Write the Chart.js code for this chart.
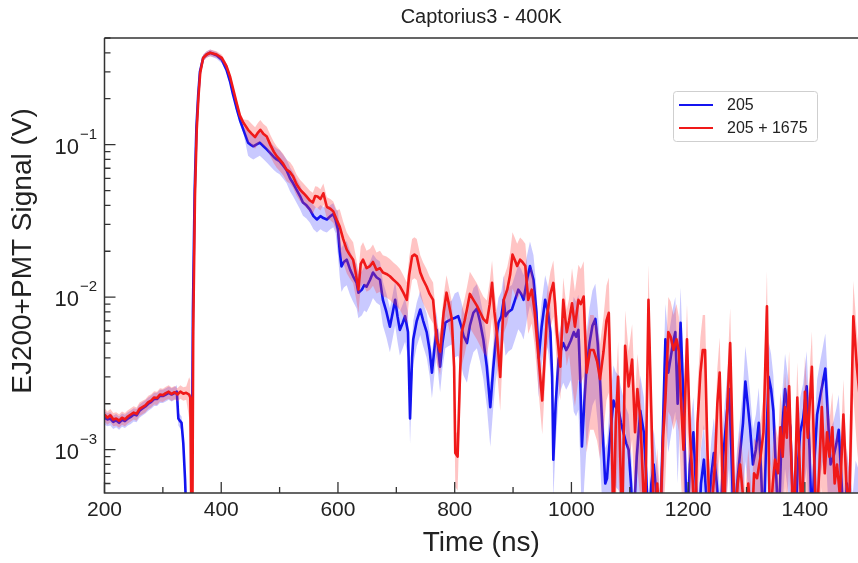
<!DOCTYPE html>
<html>
<head>
<meta charset="utf-8">
<script src="https://cdn.jsdelivr.net/npm/chart.js@4.4.0/dist/chart.umd.min.js"></script>
<style>
  html, body { margin: 0; padding: 0; background: #fff; }
  #wrap { width: 858px; height: 563px; }
</style>
</head>
<body>
<div id="wrap"><canvas id="signalChart" width="858" height="563"></canvas></div>
<script>
// time (ns) and signal (V), one row per 10 points
const blueTime = [
  200,205,210,215,220,225,230,235,240,245,
  250,255,260,265,270,275,280,285,290,295,
  300,305,310,315,320,324,326.5,329,332,335,
  338,341,349,351.5,354.5,357.5,360.5,363.5,369,375,
  381,392,401,409,415,420,426,432,438,446,
  450,455,460,466,472,478,484,490,495,500,
  506,512,518,523,529,535,540,546,552,558,
  564,570,575,581,587,592,596,600,603,606,
  610,615,621,626,632,635,641,645,649,655,
  660,666,672,677,683,689,694,698,702,706,
  711,715,718,720,723.5,727,729,735,741,746,
  752,757,761,765,769,772,775,779,784,789,
  795,800,806,811,815,821,826,832,838,843,
  849,855,861,866,870,875,880,884,887,892,
  898,903,909,914,918,924,929,935,940,944,
  949,955,960,964,967,969,973,978,982,986,
  991,995,999,1004,1008,1012,1015,1018,1022,1026,
  1031,1036,1041,1045,1049,1054,1058,1061,1066,1072,
  1076,1081,1085,1089,1094,1098,1102,1106,1112,1118,
  1124,1128,1132,1137,1141,1146,1152,1157,1161,1166,
  1170,1174,1178,1182,1187,1192,1198,1203,1209,1213,
  1218,1222,1227,1231,1235,1240,1244,1249,1255,1260,
  1265,1270,1274,1278,1284,1289,1294,1298,1302,1306,
  1311,1316,1321,1325,1329,1334,1338,1342,1346,1350,
  1355,1360,1366,1370,1375,1379,1383,1388,1392,1397,
  1403,1408,1412,1416,1421,1426,1431,1435,1440,1444,
  1449,1454,1458,1462,1467,1472,1477,1482,1487,1495
];
const blueSignal = [
  1.62e-3,1.58e-3,1.60e-3,1.52e-3,1.56e-3,1.50e-3,1.57e-3,1.54e-3,1.60e-3,1.64e-3,
  1.70e-3,1.68e-3,1.80e-3,1.86e-3,1.92e-3,2.00e-3,2.06e-3,2.15e-3,2.15e-3,2.25e-3,
  2.25e-3,2.30e-3,2.36e-3,2.30e-3,2.35e-3,2.40e-3,1.60e-3,1.55e-3,1.50e-3,1.10e-3,
  6.4e-4,3e-4,3e-4,8e-3,0.05,0.13,0.21,0.30,0.37,0.39,
  0.40,0.385,0.36,0.31,0.26,0.215,0.175,0.145,0.125,0.103,
  0.1,0.0975,0.1,0.103,0.098,0.093,0.088,0.083,0.08,0.078,
  0.073,0.068,0.06,0.056,0.0507,0.046,0.0417,0.04,0.0375,0.034,
  0.0323,0.034,0.033,0.0323,0.034,0.035,0.032,0.0277,0.02,0.0159,
  0.017,0.0176,0.0151,0.0137,0.0124,0.0107,0.0112,0.012,0.0117,0.013,
  0.0145,0.0135,0.013,0.0096,0.008,0.0064,0.008,0.0096,0.0075,0.0061,
  0.0068,0.0075,0.0065,0.0059,0.0016,0.004,0.0053,0.007,0.0083,0.007,
  0.0059,0.0045,0.0032,0.0045,0.0061,0.0045,0.0035,0.005,0.0068,0.007,
  0.0072,0.0073,0.0075,0.0065,0.0056,0.005,0.0065,0.0079,0.0084,0.007,
  0.0053,0.0035,0.0019,0.0034,0.005,0.0068,0.0075,0.0096,0.0075,0.008,
  0.0083,0.0095,0.0112,0.0105,0.0096,0.013,0.016,0.013,0.008,0.004,
  0.0064,0.0096,0.008,0.0059,0.003,8.6e-4,0.002,0.0039,0.0045,0.005,
  0.0045,0.0048,0.0052,0.0059,0.0055,0.0061,0.003,1.05e-3,0.002,0.0035,
  0.005,0.0065,0.0072,0.005,0.0028,0.0012,6e-4,6.5e-4,0.0012,0.0021,
  0.0019,0.0018,0.0015,0.0013,0.0011,0.001,6e-4,3e-4,9e-4,0.0018,
  0.0013,7e-4,3e-4,6e-4,8e-4,5e-4,3e-4,0.0015,0.0053,0.0032,
  0.004,0.005,0.0059,0.002,0.0068,0.0021,3e-4,8e-4,0.0013,6e-4,
  3e-4,6e-4,8.6e-4,5e-4,4e-4,7e-4,9.5e-4,6e-4,3e-4,9e-4,
  0.0015,0.0025,0.001,3e-4,6e-4,9.5e-4,0.0015,0.0028,0.002,0.0014,
  8e-4,0.001,0.0015,7e-4,3e-4,0.0012,0.003,0.0025,0.0018,8e-4,
  3e-4,0.0012,0.0025,0.0019,0.0014,5e-4,3e-4,8e-4,0.0013,0.0016,
  0.0026,0.001,3e-4,8e-4,0.0017,0.0022,0.0028,0.0034,0.0015,8e-4,
  9e-4,0.0011,1.35e-3,7e-4,3e-4,6e-4,4e-4,3e-4,5e-4,4e-4
];
const redTime = [
  200,205,210,215,220,225,230,235,240,245,
  250,255,260,265,270,275,280,285,290,295,
  300,305,310,315,320,325,330,335,340,345,
  347,349,350.5,352,355,358,361,364,369,375,
  381,392,401,409,415,420,426,432,438,446,
  452,458,463,467,472,478,484,490,495,500,
  506,512,518,523,529,535,541,546,552,557,
  561,565,570,575,581,587,592,598,603,609,
  615,620,626,631,635,639,643,649,655,660,
  666,672,677,683,689,695,701,706,712,718,
  722,727,731,735,741,746,752,757,763,769,
  775,781,786,790,795,799,801,805,809,812,
  817,821,826,832,838,844,849,855,860,864,
  868,872,878,884,890,895,899,903,907,912,
  916,921,926,932,937,941,945,950,954,958,
  964,969,972,975,981,986,992,996,1001,1006,
  1012,1016,1021,1026,1032,1038,1044,1049,1055,1060,
  1064,1068,1072,1076,1080,1084,1087,1092,1098,1104,
  1109,1113,1118,1122,1126,1132,1137,1142,1147,1152,
  1157,1161,1166,1170,1175,1180,1184,1188,1192,1198,
  1203,1208,1212,1216,1221,1225,1229,1233,1238,1242,
  1246,1250,1254,1258,1261,1266,1272,1276,1280,1285,
  1289,1294,1298,1303,1309,1313,1318,1324,1329,1335,
  1340,1345,1349,1354,1358,1362,1366,1369,1373,1377,
  1381,1387,1391,1395,1400,1405,1412,1416,1420,1425,
  1429,1434,1438,1442,1447,1451,1455,1460,1466,1471,
  1476,1483,1489,1495
];
const redSignal = [
  1.70e-3,1.62e-3,1.68e-3,1.58e-3,1.60e-3,1.55e-3,1.62e-3,1.58e-3,1.65e-3,1.70e-3,
  1.75e-3,1.72e-3,1.85e-3,1.90e-3,1.95e-3,2.05e-3,2.10e-3,2.20e-3,2.18e-3,2.30e-3,
  2.28e-3,2.35e-3,2.40e-3,2.32e-3,2.38e-3,2.30e-3,2.40e-3,2.33e-3,2.36e-3,2.30e-3,
  2.2e-3,3e-4,3e-4,6e-3,0.046,0.125,0.207,0.296,0.37,0.39,
  0.40,0.39,0.37,0.327,0.28,0.235,0.19,0.155,0.139,0.125,
  0.118,0.112,0.12,0.125,0.118,0.113,0.1,0.09,0.084,0.08,
  0.075,0.0685,0.066,0.062,0.055,0.0507,0.048,0.0457,0.043,0.0417,
  0.046,0.0457,0.044,0.048,0.039,0.038,0.0365,0.032,0.029,0.024,
  0.0205,0.019,0.0176,0.014,0.0112,0.0165,0.0176,0.0155,0.016,0.017,
  0.0151,0.0155,0.0145,0.0142,0.0137,0.013,0.0124,0.0118,0.0107,0.0096,
  0.014,0.0185,0.019,0.0185,0.0145,0.013,0.0117,0.0105,0.0096,0.0053,
  0.0044,0.0079,0.0107,0.009,0.0072,0.0035,9.5e-4,9e-4,0.003,0.0059,
  0.007,0.0083,0.0105,0.0096,0.0088,0.0079,0.0072,0.0068,0.009,0.0124,
  0.008,0.0059,0.003,0.0096,0.0112,0.014,0.019,0.0175,0.016,0.0176,
  0.017,0.016,0.0096,0.0112,0.008,0.0053,0.0035,0.0021,0.004,0.0075,
  0.0105,0.0124,0.009,0.0059,0.0035,0.0096,0.0059,0.007,0.0091,0.0064,
  0.0096,0.009,0.0101,0.0032,0.0045,0.0045,0.0038,0.0029,0.0044,0.007,
  0.0079,0.002,3e-4,0.0015,0.003,8e-4,3e-4,0.0048,0.0026,0.0039,
  0.0013,0.0025,0.0016,7e-4,3e-4,0.0096,0.0017,3e-4,6e-4,3e-4,
  0.0012,0.0021,0.0059,0.0055,0.0045,0.0053,0.0044,0.002,0.001,0.0053,
  0.0013,6e-4,3e-4,0.0015,0.0032,0.0045,0.0045,0.001,3e-4,5e-4,
  8e-4,0.002,0.0032,9e-4,3e-4,0.0015,0.005,0.0012,3e-4,6e-4,
  8e-4,5e-4,3e-4,6e-4,3e-4,7e-4,6.5e-4,9e-4,0.0013,0.0087,
  3e-4,6e-4,8.6e-4,7e-4,0.0014,9e-4,0.0019,0.0012,0.0026,8e-4,
  3e-4,0.0022,8e-4,3e-4,0.0024,0.0012,0.0035,9e-4,3e-4,8e-4,
  0.0019,7e-4,0.0013,9e-4,0.0014,6e-4,8e-4,5e-4,0.0017,6e-4,
  4e-4,0.0075,0.0035,0.002
];
// relative half-width of the shaded band, from each bandStart time on
const bandStart = [345, 352, 445, 600, 800, 1000];
const blueSpread = [0.1, 0.35, 0.05, 0.18, 0.32, 0.45, 0.7];
const redSpread = [0.1, 0.3, 0.05, 0.16, 0.3, 0.4, 0.7];

const xTicks = [200, 400, 600, 800, 1000, 1200, 1400];
const yDecades = [-1, -2, -3];
const seriesLabels = ['205', '205 + 1675'];

const FONT = "'Liberation Sans', Arial, Helvetica, sans-serif";
const BLUE = 'rgb(20, 20, 240)';
const RED = 'rgb(240, 25, 25)';
const AXIS = '#333';

function spreadAt(t, spread) {
  let k = 0;
  while (k < bandStart.length && t >= bandStart[k]) k++;
  return spread[k];
}
function points(times, vals) {
  return times.map((t, i) => ({ x: t, y: vals[i] }));
}
function bandPoints(times, vals, spread, sign) {
  return times.map((t, i) => {
    const f = spreadAt(t, spread);
    const v = sign > 0 ? vals[i] * (1 + f) : vals[i] * (1 - f);
    return { x: t, y: Math.max(v, 1e-5) };
  });
}

const bandStyle = { pointRadius: 0, borderWidth: 0, borderColor: 'transparent', tension: 0 };
const lineStyle = { pointRadius: 0, borderWidth: 2.6, tension: 0, fill: false, borderJoinStyle: 'round' };

// frame, inward ticks, y tick labels, y title and legend
const decorPlugin = {
  id: 'decor',
  afterDraw(chart) {
    const { ctx, chartArea: ca } = chart;
    const xs = chart.scales.x, ys = chart.scales.y;
    ctx.save();
    ctx.strokeStyle = AXIS;
    ctx.lineWidth = 1.5;
    ctx.beginPath();
    ctx.moveTo(ca.left, ca.top);
    ctx.lineTo(ca.left, ca.bottom);
    ctx.lineTo(ca.right, ca.bottom);
    ctx.moveTo(ca.left, ca.top);
    ctx.lineTo(ca.right, ca.top);
    ctx.stroke();

    ctx.lineWidth = 1.3;
    ctx.beginPath();
    for (let t = 200; t <= 1500; t += 100) {
      const px = xs.getPixelForValue(t);
      if (px > ca.right) break;
      const len = t % 200 === 0 ? 11 : 6;
      ctx.moveTo(px, ca.bottom);
      ctx.lineTo(px, ca.bottom - len);
    }
    for (let d = -4; d <= -1; d++) {
      for (let m = 1; m <= 9; m++) {
        const v = m * Math.pow(10, d);
        if (v < ys.min || v > ys.max) continue;
        const py = ys.getPixelForValue(v);
        const len = m === 1 ? 11 : 6;
        ctx.moveTo(ca.left, py);
        ctx.lineTo(ca.left + len, py);
      }
    }
    ctx.stroke();

    ctx.fillStyle = '#222';
    ctx.textBaseline = 'middle';
    yDecades.forEach(d => {
      const py = ys.getPixelForValue(Math.pow(10, d));
      const sup = '\u2212' + Math.abs(d);
      ctx.font = '15px ' + FONT;
      ctx.textAlign = 'right';
      const supW = ctx.measureText(sup).width;
      ctx.fillText(sup, 97, py - 10);
      ctx.font = '22px ' + FONT;
      ctx.fillText('10', 97 - supW - 1, py + 3);
    });

    // y axis title
    ctx.save();
    ctx.translate(23, 251);
    ctx.rotate(-Math.PI / 2);
    ctx.font = '28px ' + FONT;
    ctx.textAlign = 'center';
    ctx.fillText('EJ200+PMT Signal (V)', 0, 0);
    ctx.restore();

    // legend box
    const bx = 673.5, by = 91.5, bw = 144, bh = 50;
    ctx.fillStyle = 'rgba(255,255,255,0.85)';
    ctx.strokeStyle = '#cfcfcf';
    ctx.lineWidth = 1;
    ctx.beginPath();
    ctx.roundRect(bx, by, bw, bh, 3);
    ctx.fill();
    ctx.stroke();
    const colors = [BLUE, RED];
    seriesLabels.forEach((lab, i) => {
      const ly = 105 + i * 23;
      ctx.strokeStyle = colors[i];
      ctx.lineWidth = 2;
      ctx.beginPath();
      ctx.moveTo(679, ly);
      ctx.lineTo(713, ly);
      ctx.stroke();
      ctx.fillStyle = '#222';
      ctx.font = '16px ' + FONT;
      ctx.textAlign = 'left';
      ctx.fillText(lab, 727, ly + 1);
    });
    ctx.restore();
  }
};

const ctx = document.getElementById('signalChart').getContext('2d');
const signalChart = new Chart(ctx, {
  type: 'line',
  data: {
    datasets: [
      Object.assign({ label: 'blue hi', data: bandPoints(blueTime, blueSignal, blueSpread, 1),
        fill: '+1', backgroundColor: 'rgba(60, 60, 255, 0.28)', order: 3 }, bandStyle),
      Object.assign({ label: 'blue lo', data: bandPoints(blueTime, blueSignal, blueSpread, -1),
        fill: false, order: 3 }, bandStyle),
      Object.assign({ label: seriesLabels[0], data: points(blueTime, blueSignal),
        borderColor: BLUE, order: 2 }, lineStyle),
      Object.assign({ label: 'red hi', data: bandPoints(redTime, redSignal, redSpread, 1),
        fill: '+1', backgroundColor: 'rgba(255, 60, 60, 0.3)', order: 1 }, bandStyle),
      Object.assign({ label: 'red lo', data: bandPoints(redTime, redSignal, redSpread, -1),
        fill: false, order: 1 }, bandStyle),
      Object.assign({ label: seriesLabels[1], data: points(redTime, redSignal),
        borderColor: RED, order: 0 }, lineStyle)
    ]
  },
  options: {
    responsive: false,
    animation: false,
    devicePixelRatio: 1,
    layout: { padding: 0 },
    plugins: {
      legend: { display: false },
      tooltip: { enabled: false },
      title: {
        display: true,
        text: 'Captorius3 - 400K',
        fullSize: false,
        color: '#222',
        font: { family: FONT, size: 20, weight: 'normal' },
        padding: { top: 5, bottom: 9 }
      }
    },
    scales: {
      x: {
        type: 'linear',
        min: 200,
        max: 1491,
        grid: { display: false, drawTicks: false },
        border: { display: false },
        ticks: {
          stepSize: 200,
          includeBounds: false,
          padding: 5,
          maxRotation: 0,
          color: '#222',
          font: { family: FONT, size: 21 },
          callback: v => xTicks.includes(v) ? String(v) : ''
        },
        title: {
          display: true,
          text: 'Time (ns)',
          color: '#222',
          font: { family: FONT, size: 28 },
          padding: { top: 0, bottom: 3 }
        },
        afterFit: s => { s.height = 70; }
      },
      y: {
        type: 'logarithmic',
        min: 5.2e-4,
        max: 0.5,
        grid: { display: false, drawTicks: false },
        border: { display: false },
        ticks: { display: false },
        title: { display: false },
        afterFit: s => { s.width = 104.5; }
      }
    }
  },
  plugins: [decorPlugin]
});
</script>
</body>
</html>
